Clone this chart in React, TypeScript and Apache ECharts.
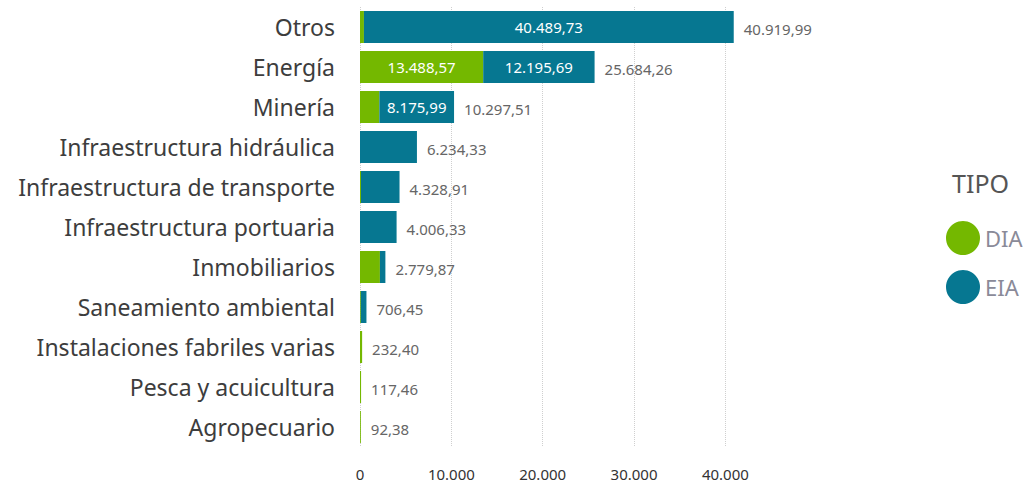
import React, { useEffect, useRef } from "react";
import * as echarts from "echarts";

const categories = [
  "Otros",
  "Energía",
  "Minería",
  "Infraestructura hidráulica",
  "Infraestructura de transporte",
  "Infraestructura portuaria",
  "Inmobiliarios",
  "Saneamiento ambiental",
  "Instalaciones fabriles varias",
  "Pesca y acuicultura",
  "Agropecuario",
];
const diaValues = [430.26, 13488.57, 2121.52, 0, 110, 0, 2180, 90, 232.4, 117.46, 92.38];
const eiaValues = [40489.73, 12195.69, 8175.99, 6234.33, 4218.91, 4006.33, 599.87, 616.45, 0, 0, 0];
const totalValues = [40919.99, 25684.26, 10297.51, 6234.33, 4328.91, 4006.33, 2779.87, 706.45, 232.4, 117.46, 92.38];
const xTicks = [0, 10000, 20000, 30000, 40000];

const FONT = "'Noto Sans', 'Open Sans', sans-serif";

function fmtNum(v: number, dec: number): string {
  const fixed = Math.abs(v).toFixed(dec);
  const [intPart, decPart] = fixed.split(".");
  const withSep = intPart.replace(/\B(?=(\d{3})+(?!\d))/g, ".");
  return (v < 0 ? "-" : "") + withSep + (decPart ? "," + decPart : "");
}

const insideMin = 7000;

export default function App() {
  const ref = useRef<HTMLDivElement>(null);
  useEffect(() => {
    if (!ref.current) return;
    const chart = echarts.init(ref.current, undefined, { renderer: "svg" });
    chart.setOption({
      animation: false,
      grid: { left: 360, top: 7, height: 440, width: 411 },
      xAxis: {
        type: "value",
        min: 0,
        max: 45000,
        interval: 10000,
        axisLine: { show: false },
        axisTick: { show: false },
        splitLine: { show: false },
        axisLabel: {
          fontFamily: FONT,
          fontSize: 15,
          color: "#333",
          margin: 19,
          formatter: (v: number) => (xTicks.includes(v) ? fmtNum(v, 0) : ""),
        },
      },
      yAxis: {
        type: "category",
        data: categories,
        inverse: true,
        axisLine: { show: false },
        axisTick: { show: false },
        axisLabel: { fontFamily: FONT, fontSize: 23, color: "#3d3d3d", margin: 25 },
      },
      legend: {
        data: ["DIA", "EIA"],
        orient: "vertical",
        left: 941,
        top: 216,
        icon: "circle",
        itemWidth: 34,
        itemHeight: 34,
        itemGap: 15,
        textStyle: { fontFamily: FONT, fontSize: 22, color: "#8a8a98" },
      },
      graphic: [
        {
          type: "text",
          left: 952,
          top: 170,
          style: { text: "TIPO", fontFamily: FONT, fontSize: 25, fill: "#555" },
        },
      ],
      series: [
        {
          name: "DIA",
          type: "bar",
          stack: "t",
          barCategoryGap: "20%",
          data: diaValues,
          itemStyle: { color: "#74b800" },
          label: {
            show: true,
            position: "inside",
            fontFamily: FONT,
            fontSize: 15,
            color: "#fff",
            formatter: (p: any) => (p.value >= insideMin ? fmtNum(p.value, 2) : ""),
          },
          markLine: {
            silent: true,
            symbol: "none",
            label: { show: false },
            lineStyle: { type: "dotted", color: "#cfcfcf", width: 1 },
            data: xTicks.map((t) => ({ xAxis: t })),
            z: 0,
          },
        },
        {
          name: "EIA",
          type: "bar",
          stack: "t",
          data: eiaValues,
          itemStyle: { color: "#067791" },
          label: {
            show: true,
            position: "inside",
            fontFamily: FONT,
            fontSize: 15,
            color: "#fff",
            formatter: (p: any) => (p.value >= insideMin ? fmtNum(p.value, 2) : ""),
          },
        },
        {
          name: "Total",
          type: "bar",
          barGap: "-100%",
          data: totalValues,
          itemStyle: { color: "rgba(0,0,0,0)" },
          silent: true,
          z: 1,
          label: {
            show: true,
            position: "right",
            distance: 10,
            offset: [0, 2],
            fontFamily: FONT,
            fontSize: 15,
            color: "#666",
            formatter: (p: any) => fmtNum(p.value, 2),
          },
        },
      ],
    });
    return () => chart.dispose();
  }, []);
  return <div ref={ref} style={{ position: "absolute", left: 0, top: 0, width: 1023, height: 485 }} />;
}
